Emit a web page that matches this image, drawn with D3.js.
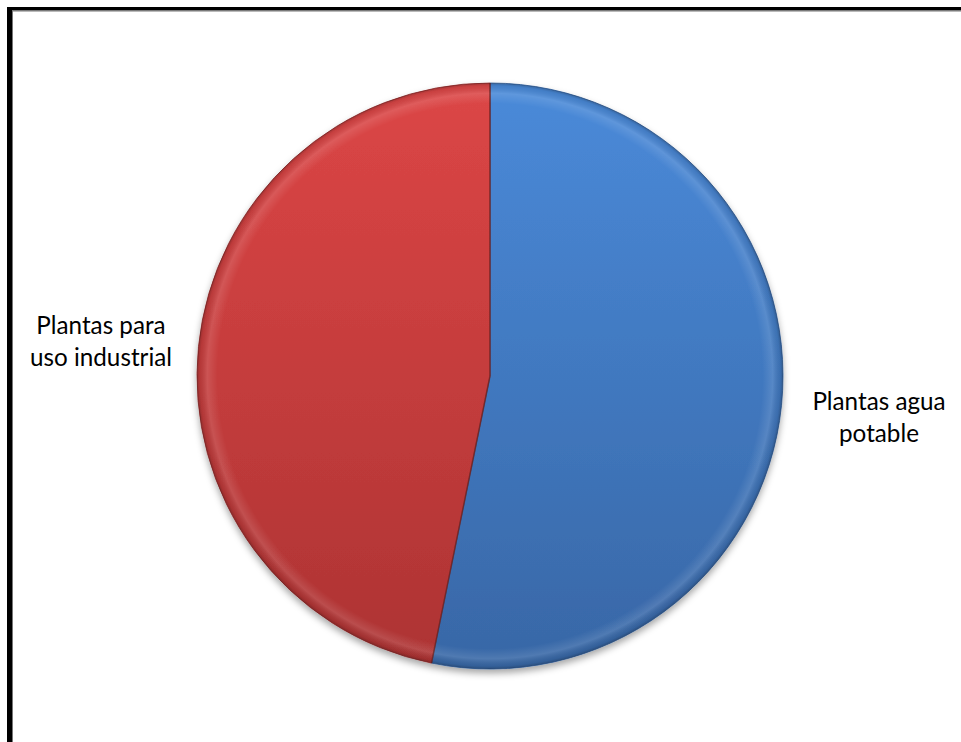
<!DOCTYPE html>
<html>
<head>
<meta charset="utf-8">
<script src="https://cdn.jsdelivr.net/npm/d3@7"></script>
<style>
  html, body { margin: 0; padding: 0; background: #fff; }
  svg { display: block; }
</style>
</head>
<body>
<svg id="chart" width="961" height="742"></svg>
<script>
// ---- data ----
const categories = ["Plantas agua potable", "Plantas para uso industrial"];
const values = [53.2, 46.8];
const labelLines = [["Plantas agua", "potable"], ["Plantas para", "uso industrial"]];

// ---- styles ----
const topColors = ["#4a8ad9", "#dc4646"];
const botColors = ["#3867a6", "#ad3333"];
const edgeColors = ["#2f5b94", "#8f2a2a"];

const svg = d3.select("#chart");
const W = 961, H = 742;
const cx = 490, cy = 376, R = 293;

const defs = svg.append("defs");
categories.forEach((c, i) => {
  const g = defs.append("linearGradient").attr("id", "grad" + i)
    .attr("gradientUnits", "userSpaceOnUse")
    .attr("x1", 0).attr("y1", -R).attr("x2", 0).attr("y2", R);
  g.append("stop").attr("offset", "0%").attr("stop-color", topColors[i]);
  g.append("stop").attr("offset", "100%").attr("stop-color", botColors[i]);
});
// bevel rim
const rim = defs.append("radialGradient").attr("id", "rim")
  .attr("gradientUnits", "userSpaceOnUse").attr("cx", 0).attr("cy", 0).attr("r", R);
rim.append("stop").attr("offset", "0%").attr("stop-color", "#fff").attr("stop-opacity", 0);
rim.append("stop").attr("offset", "93%").attr("stop-color", "#fff").attr("stop-opacity", 0);
rim.append("stop").attr("offset", "96.5%").attr("stop-color", "#fff").attr("stop-opacity", 0.12);
rim.append("stop").attr("offset", "99%").attr("stop-color", "#000").attr("stop-opacity", 0.08);
rim.append("stop").attr("offset", "100%").attr("stop-color", "#000").attr("stop-opacity", 0.25);

const f = defs.append("filter").attr("id", "shadow")
  .attr("x", "-10%").attr("y", "-10%").attr("width", "120%").attr("height", "125%");
f.append("feDropShadow").attr("dx", 0).attr("dy", 4).attr("stdDeviation", 3.5)
  .attr("flood-color", "#000").attr("flood-opacity", 0.35);

// frame (chart area clipped at right & bottom)
svg.append("line").attr("x1", 9.5).attr("y1", 7).attr("x2", 9.5).attr("y2", H)
  .attr("stroke", "#000").attr("stroke-width", 5);
svg.append("line").attr("x1", 7).attr("y1", 8.75).attr("x2", W).attr("y2", 8.75)
  .attr("stroke", "#000").attr("stroke-width", 3.5);
svg.append("line").attr("x1", 12.5).attr("y1", 11).attr("x2", 12.5).attr("y2", H)
  .attr("stroke", "#777").attr("stroke-width", 1);
svg.append("line").attr("x1", 12).attr("y1", 11).attr("x2", W).attr("y2", 11)
  .attr("stroke", "#777").attr("stroke-width", 1);

const pie = d3.pie().sort(null).value(d => d)(values);
const arc = d3.arc().innerRadius(0).outerRadius(R);

const g = svg.append("g").attr("transform", `translate(${cx},${cy})`);
const pg = g.append("g").attr("filter", "url(#shadow)");
pg.selectAll("path.slice").data(pie).join("path")
  .attr("class", "slice")
  .attr("d", arc)
  .attr("fill", (d, i) => `url(#grad${i})`)
  .attr("stroke", (d, i) => edgeColors[i])
  .attr("stroke-width", 0.8)
  .attr("stroke-linejoin", "round");
g.append("circle").attr("r", R).attr("fill", "url(#rim)").attr("pointer-events", "none");
// divider highlights
g.selectAll("path.div").data(pie).join("path")
  .attr("class", "div")
  .attr("d", d => {
    const a = d.startAngle;
    return `M0,0L${R * Math.sin(a)},${-R * Math.cos(a)}`;
  })
  .attr("stroke", "#5a2020").attr("stroke-opacity", 0.55).attr("stroke-width", 1.5)
  .attr("fill", "none");

// labels
const labelPos = [[879, 410], [101, 334]];
const lineGap = 32;
const labels = svg.append("g")
  .attr("font-family", "Lato, 'Open Sans', sans-serif")
  .attr("fill", "#000").attr("text-anchor", "middle");
const texts = labels.selectAll("text").data(labelLines).join("text")
  .attr("x", (d, i) => labelPos[i][0]).attr("y", (d, i) => labelPos[i][1])
  .attr("font-size", 26);
texts.each(function (lines, i) {
  d3.select(this).selectAll("tspan").data(lines).join("tspan")
    .attr("x", labelPos[i][0])
    .attr("dy", (d, j) => j === 0 ? 0 : lineGap)
    .text(d => d);
});
// fit font so "uso industrial" ~142px wide like the reference
const probe = texts.filter((d, i) => i === 1).selectAll("tspan").filter((d, j) => j === 1).node();
const w = probe.getComputedTextLength();
const fs = 26 * 142 / w;
texts.attr("font-size", fs);
</script>
</body>
</html>
